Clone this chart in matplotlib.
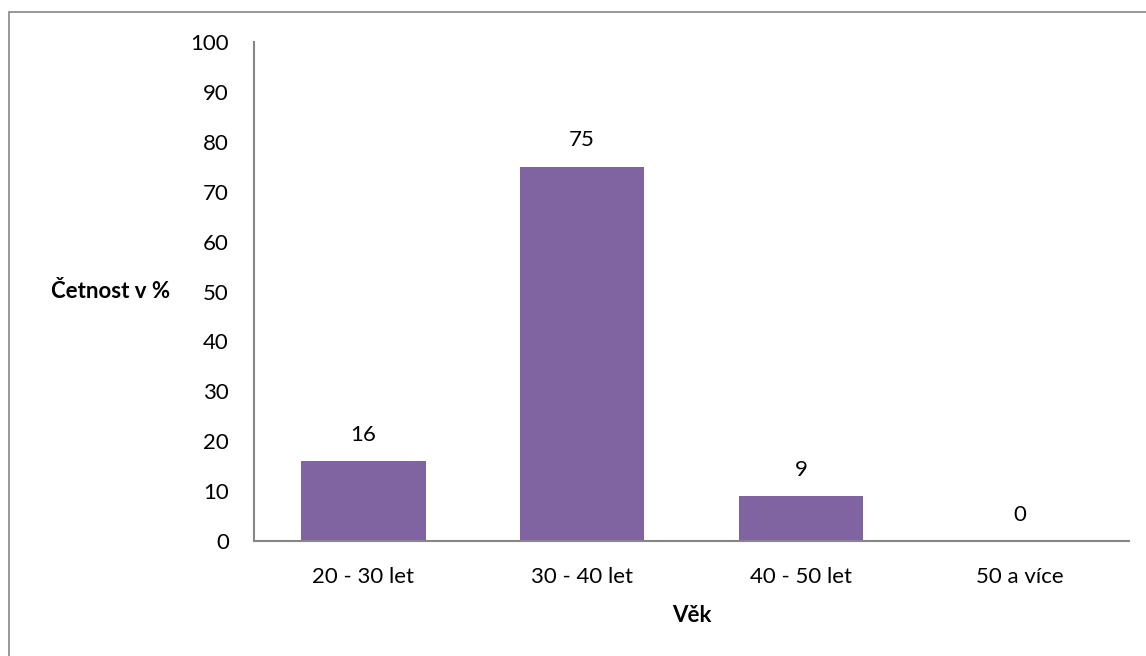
import matplotlib.pyplot as plt
from matplotlib.patches import Rectangle

# Data
categories = ['20 - 30 let', '30 - 40 let', '40 - 50 let', '50 a více']
values = [16, 75, 9, 0]
y_ticks = list(range(0, 101, 10))

plt.rcParams['font.family'] = ['Lato', 'DejaVu Sans']
FS = 16

W, H = 1146, 656
fig = plt.figure(figsize=(W / 100, H / 100), dpi=100)

# outer chart border (right and bottom edges fall outside the image)
fig.patches.append(Rectangle((9 / W, -0.05), 1.1, 1 - 12 / H + 0.05,
                             transform=fig.transFigure, fill=False,
                             edgecolor='#868686', linewidth=1.2))

ax = fig.add_axes([254 / W, 1 - 541 / H, (1129 - 254) / W, (541 - 42) / H])

x = range(len(categories))
ax.bar(x, values, width=0.57, color='#8064A2')

for xi, v in zip(x, values):
    ax.annotate(str(v), (xi, v), xytext=(0, 19), textcoords='offset points',
                ha='center', va='center', fontsize=FS)

ax.set_xlim(-0.5, len(categories) - 0.5)
ax.set_ylim(0, 100)
ax.set_yticks(y_ticks)
ax.set_xticks(list(x))
ax.set_xticklabels(categories)
ax.tick_params(axis='both', length=0, labelsize=FS, colors='black')
ax.tick_params(axis='y', pad=18)
ax.tick_params(axis='x', pad=19)

for side in ['top', 'right']:
    ax.spines[side].set_visible(False)
for side in ['left', 'bottom']:
    ax.spines[side].set_color('#868686')
    ax.spines[side].set_linewidth(1.5)

fig.text(111 / W, 1 - 292 / H, 'Četnost v %', ha='center', va='center',
         fontsize=FS, fontweight='bold')
fig.text(692 / W, 1 - 615 / H, 'Věk', ha='center', va='center',
         fontsize=FS, fontweight='bold')

plt.savefig('out.png', dpi=100)
